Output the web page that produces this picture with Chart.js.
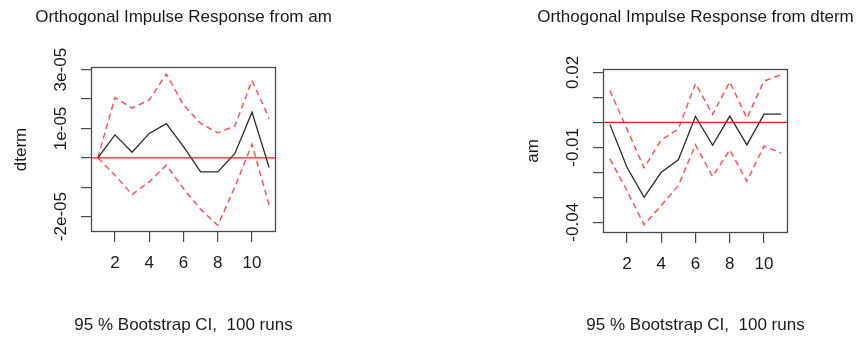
<!DOCTYPE html>
<html>
<head>
<meta charset="utf-8">
<script src="https://cdn.jsdelivr.net/npm/chart.js@4.4.0/dist/chart.umd.min.js"></script>
<style>
  body { margin: 0; background: #fff; }
  #wrap { position: relative; width: 856px; height: 338px; }
  canvas { position: absolute; top: 0; }
</style>
</head>
<body>
<div id="wrap">
  <canvas id="leftChart" width="428" height="338" style="left:0"></canvas>
  <canvas id="rightChart" width="428" height="338" style="left:428px"></canvas>
</div>
<script>
// impulse horizons
const horizon = [1, 2, 3, 4, 5, 6, 7, 8, 9, 10, 11];
const xTicks = [2, 4, 6, 8, 10];

// response of dterm to a shock in am
const amResp  = [0, 7.8e-6, 1.9e-6, 8.3e-6, 1.16e-5, 3.8e-6, -4.8e-6, -4.8e-6, 1.5e-6, 1.55e-5, -3.3e-6];
const amUpper = [0, 2.05e-5, 1.69e-5, 1.97e-5, 2.85e-5, 1.8e-5, 1.17e-5, 8.5e-6, 1.08e-5, 2.63e-5, 1.34e-5];
const amLower = [0, -5.9e-6, -1.25e-5, -8.2e-6, -2.5e-6, -1.05e-5, -1.75e-5, -2.3e-5, -9.9e-6, 4.6e-6, -1.61e-5];
const amTicks = [-2e-5, -1e-5, 0, 1e-5, 2e-5, 3e-5];
const amTickLabels = [[3e-5, '3e-05'], [1e-5, '1e-05'], [-2e-5, '-2e-05']];

// response of am to a shock in dterm
const dtResp  = [-0.0008, -0.018, -0.030, -0.020, -0.015, 0.0024, -0.0092, 0.0025, -0.009, 0.0033, 0.0033];
const dtUpper = [0.0128, -0.0027, -0.0182, -0.007, -0.0027, 0.0155, 0.0032, 0.0162, 0.0017, 0.0165, 0.0191];
const dtLower = [-0.0146, -0.0273, -0.041, -0.0333, -0.0253, -0.009, -0.0217, -0.011, -0.0236, -0.0095, -0.0123];
const dtTicks = [-0.04, -0.03, -0.02, -0.01, 0, 0.01, 0.02];
const dtTickLabels = [[0.02, '0.02'], [-0.01, '-0.01'], [-0.04, '-0.04']];

const FONT = '17px "Liberation Sans", Arial, sans-serif';
const INK = '#1a1a1a';
const AXIS = '#4a4a4a';

function pts(ys) {
    return horizon.map((x, i) => ({ x: x, y: ys[i] }));
}

// box, zero line and all the text R puts round the plot
const decor = {
    id: 'decor',
    afterDatasetsDraw(chart, args, o) {
        const ctx = chart.ctx;
        const a = chart.chartArea;
        const y = chart.scales.y;
        ctx.save();
        const y0 = y.getPixelForValue(0);
        ctx.strokeStyle = 'rgba(255,0,0,0.9)';
        ctx.lineWidth = 1.3;
        ctx.beginPath();
        ctx.moveTo(a.left, y0);
        ctx.lineTo(a.right, y0);
        ctx.stroke();

        ctx.strokeStyle = AXIS;
        ctx.lineWidth = 1.3;
        ctx.strokeRect(a.left + 0.5, a.top + 0.5, a.right - a.left - 1, a.bottom - a.top - 1);

        ctx.fillStyle = INK;
        ctx.font = FONT;
        ctx.textAlign = 'center';
        const cx = (a.left + a.right) / 2;
        ctx.textBaseline = 'alphabetic';
        ctx.fillText(o.title, cx, 22);
        ctx.fillText('95 % Bootstrap CI,  100 runs', cx, 330);

        ctx.textBaseline = 'middle';
        o.labels.forEach(([v, txt]) => {
            ctx.save();
            ctx.translate(a.left - 30, y.getPixelForValue(v));
            ctx.rotate(-Math.PI / 2);
            ctx.fillText(txt, 0, 0);
            ctx.restore();
        });
        ctx.save();
        ctx.translate(a.left - 70, (a.top + a.bottom) / 2);
        ctx.rotate(-Math.PI / 2);
        ctx.fillText(o.ylab, 0, 0);
        ctx.restore();
        ctx.restore();
    }
};

function drawIrf(id, resp, upper, lower, ymin, ymax, yticks, box, opts) {
    const dashed = { borderColor: 'rgba(255,0,0,0.7)', borderWidth: 1.4, borderDash: [6, 4], pointRadius: 0, tension: 0 };
    return new Chart(document.getElementById(id), {
        type: 'line',
        data: {
            datasets: [
                { data: pts(resp), borderColor: '#2a2a2a', borderWidth: 1.3, pointRadius: 0, tension: 0 },
                Object.assign({ data: pts(upper) }, dashed),
                Object.assign({ data: pts(lower) }, dashed)
            ]
        },
        options: {
            responsive: false,
            animation: false,
            layout: { padding: { left: 0, top: box.top, right: 428 - box.right, bottom: 338 - box.bottom - 40 } },
            plugins: { legend: { display: false }, tooltip: { enabled: false }, decor: opts },
            scales: {
                x: {
                    type: 'linear', min: 0.6, max: 11.4,
                    afterBuildTicks: s => { s.ticks = xTicks.map(v => ({ value: v })); },
                    afterFit: s => { s.height = 40; },
                    border: { display: false },
                    grid: { drawOnChartArea: false, drawTicks: true, tickLength: 10, color: AXIS, lineWidth: 1.2 },
                    ticks: { font: { family: '"Liberation Sans", Arial, sans-serif', size: 17 }, color: INK, padding: 11, maxRotation: 0 }
                },
                y: {
                    min: ymin, max: ymax,
                    afterBuildTicks: s => { s.ticks = yticks.map(v => ({ value: v })); },
                    afterFit: s => { s.width = box.left; },
                    border: { display: false },
                    grid: { drawOnChartArea: false, drawTicks: true, tickLength: 10, color: AXIS, lineWidth: 1.2 },
                    ticks: { display: false }
                }
            }
        },
        plugins: [decor]
    });
}

drawIrf('leftChart', amResp, amUpper, amLower, -2.525e-5, 3.09e-5, amTicks,
    { left: 91, right: 276, top: 67, bottom: 232 },
    { title: 'Orthogonal Impulse Response from am', ylab: 'dterm', labels: amTickLabels });

drawIrf('rightChart', dtResp, dtUpper, dtLower, -0.0443, 0.02137, dtTicks,
    { left: 175, right: 360, top: 69, bottom: 233 },
    { title: 'Orthogonal Impulse Response from dterm', ylab: 'am', labels: dtTickLabels });
</script>
</body>
</html>
